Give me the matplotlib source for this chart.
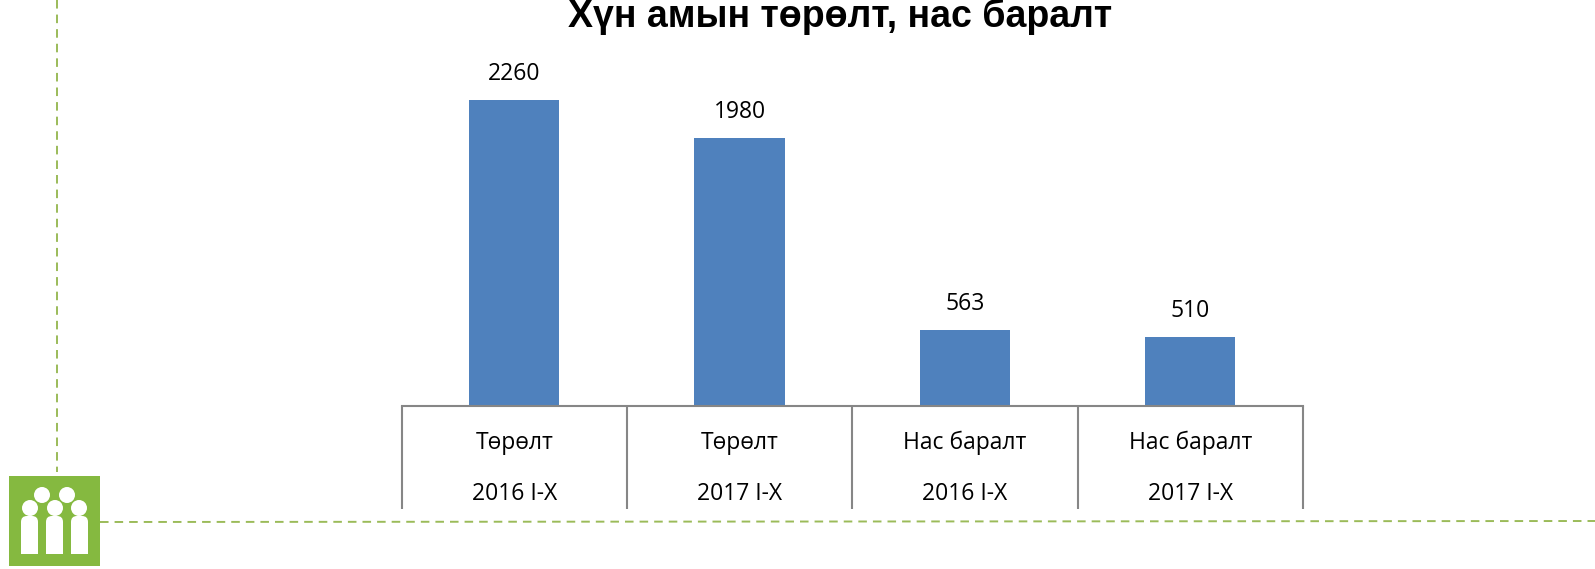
import matplotlib
matplotlib.use('Agg')
import matplotlib.pyplot as plt
from matplotlib.patches import Rectangle, Circle, FancyBboxPatch

W, H = 1595, 569

title = 'Хүн амын төрөлт, нас баралт'
categories = ['Төрөлт', 'Төрөлт', 'Нас баралт', 'Нас баралт']
periods = ['2016 I-X', '2017 I-X', '2016 I-X', '2017 I-X']
values = [2260, 1980, 563, 510]

BAR = '#4F81BD'
GREEN = '#85B940'
DASH = '#9BBB59'
GREY = '#868686'
BODY_FONT = ['Open Sans', 'DejaVu Sans']
DASHES = (0, (4.4, 3.1))

fig = plt.figure(figsize=(W / 100, H / 100), dpi=100, facecolor='white')

# page decoration in pixel coordinates
deco = fig.add_axes([0, 0, 1, 1])
deco.set_xlim(0, W)
deco.set_ylim(H, 0)
deco.axis('off')
deco.plot([56.5, 56.5], [0, 472], color=DASH, lw=1.4, ls=DASHES)
deco.plot([100, W], [522, 521], color=DASH, lw=1.4, ls=DASHES)
deco.add_patch(Rectangle((9, 476), 91, 90, color=GREEN, lw=0))
for cx, cy in [(42, 495), (67, 495), (30, 508), (55, 508), (79, 508)]:
    deco.add_patch(Circle((cx, cy), 8, color='white', lw=0))
for bx in [21, 46, 71]:
    deco.add_patch(FancyBboxPatch((bx, 516), 17, 30, boxstyle='round,pad=0,rounding_size=6',
                                  color='white', lw=0))
    deco.add_patch(Rectangle((bx, 528), 17, 26, color='white', lw=0))

deco.text(840, 26.5, title, family=['Liberation Sans', 'DejaVu Sans'], fontweight='bold',
          fontsize=27, ha='center', va='baseline', color='black')

# chart
left, right, bottom, top = 401.5, 1303, 406, 60
ax = fig.add_axes([left / W, 1 - bottom / H, (right - left) / W, (bottom - top) / H])
ax.patch.set_alpha(0)
x = list(range(len(values)))
ax.bar(x, values, width=0.4, color=BAR)
ax.set_xlim(-0.5, len(values) - 0.5)
ax.set_ylim(0, 2260 * (bottom - top) / (bottom - 100))
ax.set_yticks([])
ax.set_xticks([])
for s in ['top', 'left', 'right']:
    ax.spines[s].set_visible(False)
ax.spines['bottom'].set_color(GREY)
ax.spines['bottom'].set_linewidth(1.5)

for i, v in enumerate(values):
    ax.annotate(str(v), (i, v), xytext=(0, 14.5), textcoords='offset points', ha='center',
                va='baseline', family=BODY_FONT, fontsize=16.5, color='black')

# two-level category axis below the bars
trans = ax.get_xaxis_transform()
span = bottom - top
for i in range(len(values) + 1):
    ax.plot([i - 0.5, i - 0.5], [0, -103 / span], transform=trans, color=GREY,
            lw=1.5, clip_on=False, solid_capstyle='butt')
for i, (c, p) in enumerate(zip(categories, periods)):
    ax.text(i, -43 / span, c, transform=trans, ha='center', va='baseline',
            family=BODY_FONT, fontsize=16.5)
    ax.text(i, -94.5 / span, p, transform=trans, ha='center', va='baseline',
            family=BODY_FONT, fontsize=16.5)

fig.savefig('out.png', dpi=100)
